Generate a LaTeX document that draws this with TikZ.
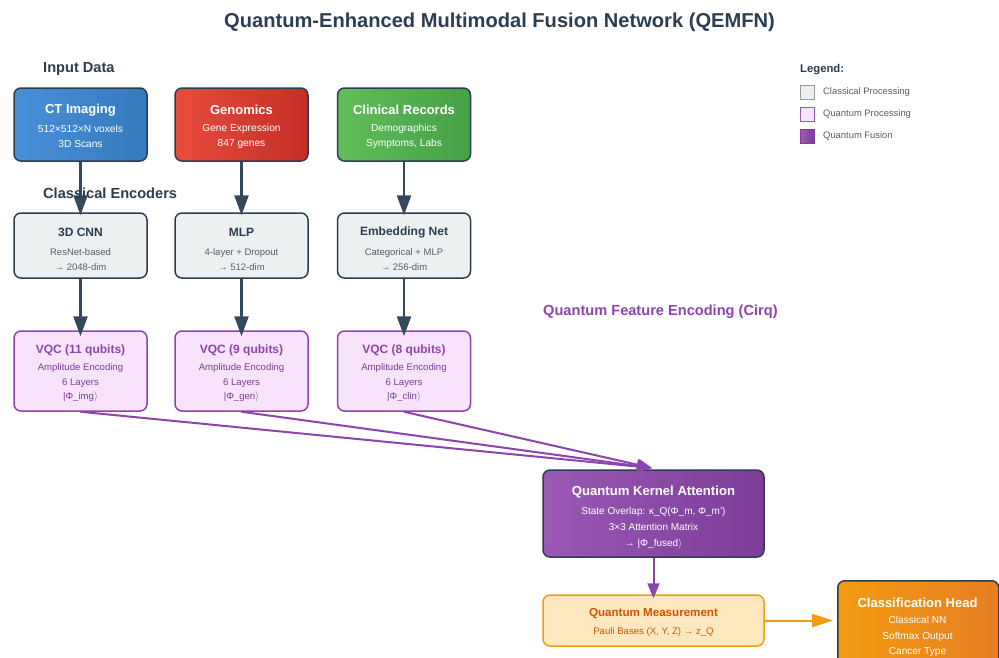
\documentclass[tikz,border=0pt]{standalone}
\usepackage{fontspec}
\setmainfont{Liberation Sans}
\usetikzlibrary{arrows.meta}
\definecolor{dk}{HTML}{2C3E50}
\definecolor{arrdk}{HTML}{34495E}
\definecolor{ctA}{HTML}{4A90D9}
\definecolor{ctB}{HTML}{357ABD}
\definecolor{gnA}{HTML}{E74C3C}
\definecolor{gnB}{HTML}{C62E26}
\definecolor{clA}{HTML}{62BD5B}
\definecolor{clB}{HTML}{46A046}
\definecolor{clsfill}{HTML}{ECF0F1}
\definecolor{qfill}{HTML}{F7E4FB}
\definecolor{qpur}{HTML}{8E44AD}
\definecolor{qtxt}{HTML}{7D3C98}
\definecolor{atA}{HTML}{9B59B6}
\definecolor{atB}{HTML}{7D3C98}
\definecolor{msfill}{HTML}{FDE8BF}
\definecolor{msedge}{HTML}{F39C12}
\definecolor{mstxt}{HTML}{D35400}
\definecolor{chA}{HTML}{F39C12}
\definecolor{chB}{HTML}{E67E22}
\definecolor{gtxt}{HTML}{555F66}
\tikzset{
  box/.style={rectangle, rounded corners=7pt, line width=1.5pt, inner sep=0pt,
    minimum width=133pt, minimum height=73pt},
  inbox/.style={box, draw=dk},
  clsbox/.style={box, draw=dk, fill=clsfill, minimum height=65pt},
  qbox/.style={box, draw=qpur, fill=qfill, minimum height=80pt},
  ttl/.style={font=\fontsize{13}{15}\selectfont\bfseries, inner sep=0pt},
  subt/.style={font=\fontsize{10.2}{15}\selectfont, align=center, inner sep=0pt},
  sect/.style={font=\fontsize{14.6}{16}\selectfont\bfseries, anchor=west, inner sep=0pt},
  darr/.style={draw=arrdk, line width=2.5pt, -{Triangle[length=20pt,width=14pt]}},
  parr/.style={draw=qpur, line width=2pt, -{Triangle[length=15pt,width=12pt]}},
  oarr/.style={draw=msedge, line width=2pt, -{Triangle[length=21pt,width=13pt]}},
  legsq/.style={rectangle, minimum width=14pt, minimum height=14pt, inner sep=0pt, line width=1pt},
  legtx/.style={font=\fontsize{9.4}{11}\selectfont, text=gtxt, anchor=west, inner sep=0pt}
}
\begin{document}
\begin{tikzpicture}[x=1pt,y=-1pt]
\useasboundingbox (0,0) rectangle (999,657);
\clip (0,0) rectangle (999,657);
\fill[white] (0,0) rectangle (999,657);

% title
\node[font=\fontsize{20.1}{22}\selectfont\bfseries, text=dk, inner sep=0pt] (title) at (499.5,22.5) {Quantum-Enhanced Multimodal Fusion Network (QEMFN)};

% section labels
\node[sect, text=dk] (secIn) at (43,68.5) {Input Data};

% input boxes
\node[inbox, left color=ctA, right color=ctB] (ct) at (80.5,124.5) {};
\node[inbox, left color=gnA, right color=gnB] (gn) at (241.5,124.5) {};
\node[inbox, left color=clA, right color=clB] (cl) at (404,124.5) {};
\node[ttl, text=white] (ctT) at (80.5,110) {CT Imaging};
\node[subt, text=white] (ctS) at (80.5,136.5) {512×512×N voxels\\3D Scans};
\node[ttl, text=white] (gnT) at (241.5,110) {Genomics};
\node[subt, text=white] (gnS) at (241.5,136.5) {Gene Expression\\847 genes};
\node[ttl, text=white] (clT) at (404,110) {Clinical Records};
\node[subt, text=white] (clS) at (404,136.5) {Demographics\\Symptoms, Labs};

% encoder boxes
\node[clsbox] (e1) at (80.5,245.5) {};
\node[clsbox] (e2) at (241.5,245.5) {};
\node[clsbox] (e3) at (404,245.5) {};
\node[ttl, text=dk, font=\fontsize{12}{14}\selectfont\bfseries] (e1T) at (80.5,232) {3D CNN};
\node[subt, text=gtxt, font=\fontsize{9.5}{15}\selectfont] (e1S) at (80.5,259.5) {ResNet-based\\→ 2048-dim};
\node[ttl, text=dk, font=\fontsize{12}{14}\selectfont\bfseries] (e2T) at (241.5,232) {MLP};
\node[subt, text=gtxt, font=\fontsize{9.5}{15}\selectfont] (e2S) at (241.5,259.5) {4-layer + Dropout\\→ 512-dim};
\node[ttl, text=dk, font=\fontsize{12}{14}\selectfont\bfseries] (e3T) at (404,232) {Embedding Net};
\node[subt, text=gtxt, font=\fontsize{9.5}{15}\selectfont] (e3S) at (404,259.5) {Categorical + MLP\\→ 256-dim};

% arrows input -> encoders
\draw[darr] (ct.south) -- ([yshift=-3pt]e1.north);
\draw[darr] (gn.south) -- ([yshift=-3pt]e2.north);
\draw[darr] (cl.south) -- ([yshift=-3pt]e3.north);

\node[sect, text=dk] (secEnc) at (43,193.5) {Classical Encoders};

% VQC boxes
\node[qbox] (q1) at (80.5,371) {};
\node[qbox] (q2) at (241.5,371) {};
\node[qbox] (q3) at (404,371) {};
\node[ttl, text=qpur, font=\fontsize{12}{14}\selectfont\bfseries] (q1T) at (80.5,350) {VQC (11 qubits)};
\node[subt, text=qtxt, font=\fontsize{9.6}{14.5}\selectfont] (q1S) at (80.5,383) {Amplitude Encoding\\6 Layers\\|Φ\_img$\rangle$};
\node[ttl, text=qpur, font=\fontsize{12}{14}\selectfont\bfseries] (q2T) at (241.5,350) {VQC (9 qubits)};
\node[subt, text=qtxt, font=\fontsize{9.6}{14.5}\selectfont] (q2S) at (241.5,383) {Amplitude Encoding\\6 Layers\\|Φ\_gen$\rangle$};
\node[ttl, text=qpur, font=\fontsize{12}{14}\selectfont\bfseries] (q3T) at (404,350) {VQC (8 qubits)};
\node[subt, text=qtxt, font=\fontsize{9.6}{14.5}\selectfont] (q3S) at (404,383) {Amplitude Encoding\\6 Layers\\|Φ\_clin$\rangle$};

% arrows encoders -> VQC
\draw[darr] (e1.south) -- ([yshift=-6pt]q1.north);
\draw[darr] (e2.south) -- ([yshift=-6pt]q2.north);
\draw[darr] (e3.south) -- ([yshift=-6pt]q3.north);

\node[sect, text=qpur] (secQ) at (543,311.5) {Quantum Feature Encoding (Cirq)};

% attention box
\node[box, draw=dk, left color=atA, right color=atB, minimum width=221pt, minimum height=87pt] (att) at (653.5,513.5) {};
\node[ttl, text=white, font=\fontsize{13.1}{15}\selectfont\bfseries] (attT) at (653.5,492) {Quantum Kernel Attention};
\node[subt, text=white, font=\fontsize{10}{16}\selectfont] (attS) at (653.5,528) {State Overlap: κ\_Q(Φ\_m, Φ\_m')\\3×3 Attention Matrix\\→ |Φ\_fused$\rangle$};

\coordinate (conv) at (652,468);
\draw[parr] (q1.south) -- (conv);
\draw[parr] (q2.south) -- (conv);
\draw[parr] (q3.south) -- (conv);

% measurement
\node[box, draw=msedge, fill=msfill, minimum width=221pt, minimum height=51pt] (ms) at (653.5,620.5) {};
\node[ttl, text=mstxt, font=\fontsize{11.6}{14}\selectfont\bfseries] (msT) at (653.5,614) {Quantum Measurement};
\node[subt, text=mstxt, font=\fontsize{9.6}{12}\selectfont] (msS) at (653.5,632) {Pauli Bases (X, Y, Z) → z\_Q};

\draw[parr] (att.south) -- ([yshift=-4pt]ms.north);

% classification head
\node[box, draw=dk, left color=chA, right color=chB, minimum width=161pt, minimum height=110pt, anchor=north west] (ch) at (837,580) {};
\node[ttl, text=white, font=\fontsize{13}{15}\selectfont\bfseries] (chT) at (917.5,602.5) {Classification Head};
\node[subt, text=white, font=\fontsize{10.1}{15.5}\selectfont, anchor=north] (chS) at (917.5,616) {Classical NN\\Softmax Output\\Cancer Type};

\draw[oarr] (ms.east) -- ([xshift=-4pt]ch.west |- ms.east);

% legend
\node[font=\fontsize{11.3}{13}\selectfont\bfseries, text=dk, anchor=west, inner sep=0pt] (legT) at (800,70) {Legend:};
\node[legsq, draw=gray!80, fill=clsfill] (l1) at (807.5,92) {};
\node[legtx] (l1t) at (823,92) {Classical Processing};
\node[legsq, draw=atA, fill=qfill] (l2) at (807.5,114) {};
\node[legtx] (l2t) at (823,114) {Quantum Processing};
\node[legsq, draw=atB, left color=atA, right color=atB] (l3) at (807.5,136) {};
\node[legtx] (l3t) at (823,136) {Quantum Fusion};
\end{tikzpicture}
\end{document}
